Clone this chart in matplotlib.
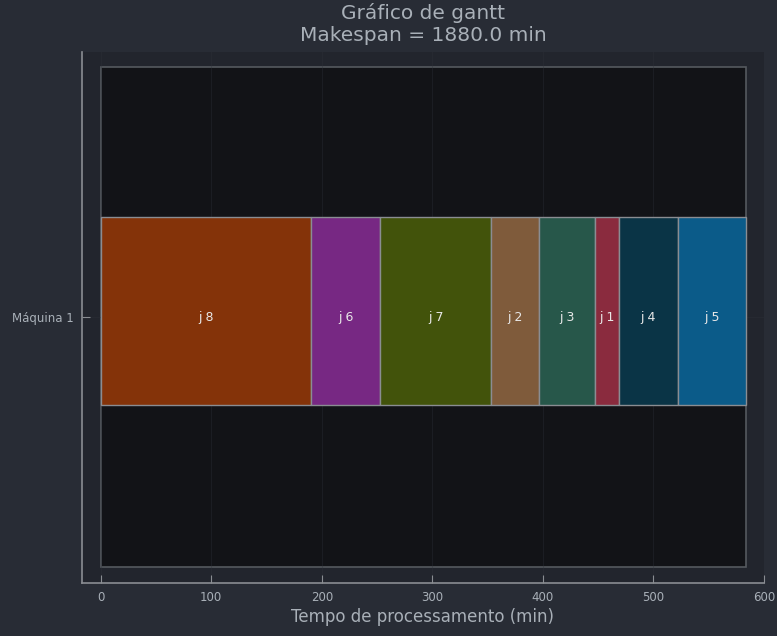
import matplotlib

matplotlib.use("Agg")
import matplotlib.pyplot as plt
from matplotlib.patches import Rectangle

# sequence of jobs on the machine, with processing times (min)
jobs = ["j 8", "j 6", "j 7", "j 2", "j 3", "j 1", "j 4", "j 5"]
durations = [190, 63, 100, 44, 50, 22, 53, 62]
colors = ["#843309", "#772883", "#42530b", "#7f5b3b",
          "#27574a", "#8a2b3e", "#0a3446", "#0b5b89"]
machines = ["Máquina 1"]
makespan = 1880.0

FIG_BG = "#282c35"
AX_BG = "#22252d"
INNER_BG = "#121317"
TEXT = "#a9b0b8"

fig = plt.figure(figsize=(7.77, 6.36), dpi=100, facecolor=FIG_BG)
ax = fig.add_axes([0.1055, 0.0835, 0.8775, 0.835])
ax.set_facecolor(AX_BG)

total = sum(durations)
ax.add_patch(Rectangle((0, -1.064), total, 2.128, facecolor=INNER_BG,
                       edgecolor="#55595f", linewidth=1.2, zorder=0.5))
ax.grid(True, color="#2e323a", linewidth=0.8, alpha=0.35, zorder=0.8)

start = 0
for job, dur, col in zip(jobs, durations, colors):
    ax.barh(-0.375, dur, left=start, height=0.8, align="edge", color=col,
            edgecolor="#8a8d92", linewidth=1.0, zorder=2)
    ax.text(start + dur / 2, 0, job, ha="center", va="center",
            color="#e8e8e8", fontsize=9, zorder=3)
    start += dur

ax.set_xlim(-17, 600)
ax.set_ylim(-1.13, 1.13)
ax.set_yticks([0])
ax.set_yticklabels(machines)
ax.set_xticks([0, 100, 200, 300, 400, 500, 600])
ax.tick_params(colors="#8a8d92", labelcolor=TEXT, direction="in", labelsize=8.5, length=6)
ax.tick_params(axis="y", pad=6)
ax.tick_params(axis="x", pad=6)
for side in ["top", "right"]:
    ax.spines[side].set_visible(False)
for side in ["left", "bottom"]:
    ax.spines[side].set_color("#8a8d92")
    ax.spines[side].set_linewidth(1.2)

ax.set_xlabel("Tempo de processamento (min)", color=TEXT, fontsize=12, labelpad=3)
ax.set_title("Gráfico de gantt\nMakespan = %.1f min" % makespan,
             color=TEXT, fontsize=14.5, pad=8, linespacing=1.15)

fig.savefig("out.png", dpi=100, facecolor=FIG_BG)
